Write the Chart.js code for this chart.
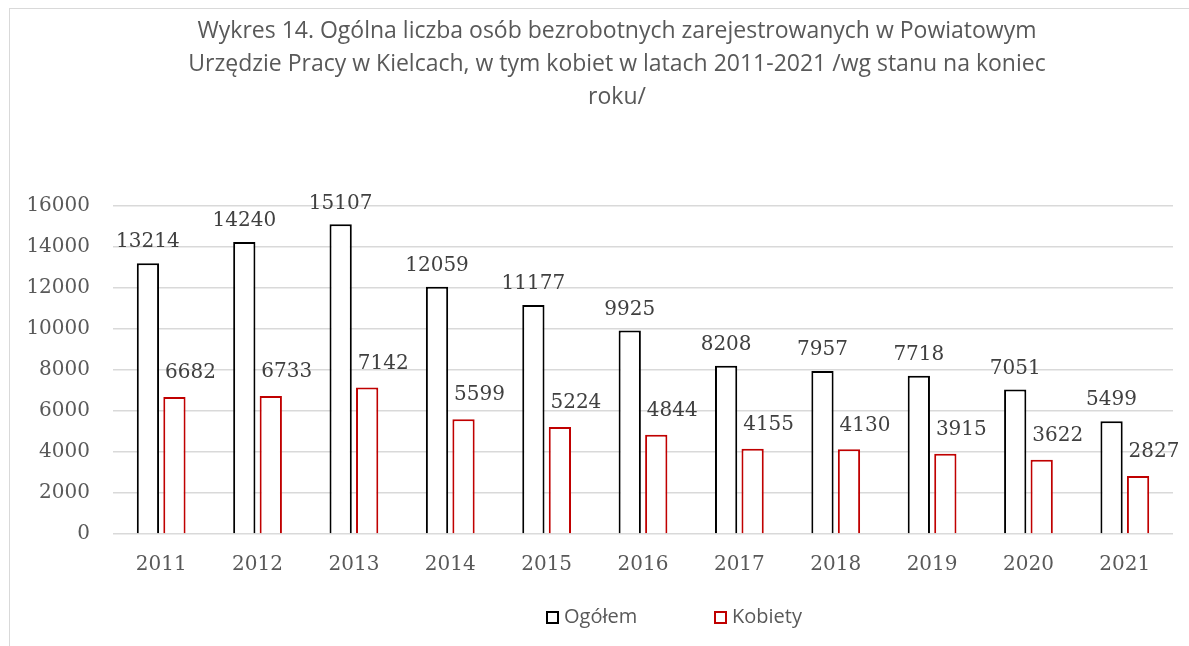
<!DOCTYPE html>
<html>
<head>
<meta charset="utf-8">
<script src="https://cdn.jsdelivr.net/npm/chart.js@4.4.1/dist/chart.umd.min.js"></script>
<style>
  html, body { margin: 0; padding: 0; background: #fff; overflow: hidden; }
  #frame {
    position: absolute; left: 9px; top: 8px;
    width: 1216px; height: 680px;
    border: 1px solid #d9d9d9; box-sizing: border-box;
  }
  #wrap { position: absolute; left: 0; top: 0; width: 1214px; height: 640px; }
  #legend {
    position: absolute; top: 596px; left: 0; width: 100%;
    font-family: 'Open Sans', sans-serif; font-size: 20px; color: #595959;
  }
  .item { position: absolute; top: 0; line-height: 22px; white-space: nowrap; }
  .box { display: inline-block; width: 13px; height: 13px; box-sizing: border-box; border: 2px solid; vertical-align: -1px; margin-right: 5px; }
</style>
</head>
<body>
<div id="frame">
  <div id="wrap"><canvas id="chart"></canvas></div>
  <div id="legend">
    <span class="item" style="left:536px"><span class="box" style="border-color:#000"></span>Ogółem</span>
    <span class="item" style="left:704px"><span class="box" style="border-color:#c00000"></span>Kobiety</span>
  </div>
</div>
<script>
// ── DATA ──
const YEARS   = ['2011', '2012', '2013', '2014', '2015', '2016', '2017', '2018', '2019', '2020', '2021'];
const OGOLEM  = [13214, 14240, 15107, 12059, 11177, 9925, 8208, 7957, 7718, 7051, 5499];
const KOBIETY = [6682, 6733, 7142, 5599, 5224, 4844, 4155, 4130, 3915, 3622, 2827];
const TITLE = [
  'Wykres 14. Ogólna liczba osób bezrobotnych zarejestrowanych w Powiatowym',
  'Urzędzie Pracy w Kielcach, w tym kobiet w latach 2011-2021 /wg stanu na koniec',
  'roku/'
];

const SERIF = "'DejaVu Serif', serif";
const GRID  = '#d9d9d9';
const GREY  = '#595959';

// ── VALUE LABELS ──
const valueLabels = {
  id: 'valueLabels',
  afterDatasetsDraw(chart) {
    const ctx = chart.ctx;
    ctx.save();
    ctx.font = '20px ' + SERIF;
    ctx.fillStyle = '#404040';
    ctx.textAlign = 'center';
    ctx.textBaseline = 'bottom';
    chart.data.datasets.forEach((ds, i) => {
      const meta = chart.getDatasetMeta(i);
      meta.data.forEach((bar, j) => {
        const dx = i === 1 ? 16 : 0;
        const dy = i === 1 ? 14 : 11;
        ctx.fillText(ds.data[j], bar.x + dx, bar.y - dy);
      });
    });
    ctx.restore();
  }
};

new Chart(document.getElementById('chart'), {
  type: 'bar',
  data: {
    labels: YEARS,
    datasets: [
      {
        label: 'Ogółem',
        data: OGOLEM,
        backgroundColor: '#ffffff',
        borderColor: '#000000',
        borderWidth: 2,
        categoryPercentage: 0.55,
        barPercentage: 0.84
      },
      {
        label: 'Kobiety',
        data: KOBIETY,
        backgroundColor: '#ffffff',
        borderColor: '#c00000',
        borderWidth: 2,
        categoryPercentage: 0.55,
        barPercentage: 0.84
      }
    ]
  },
  options: {
    responsive: true,
    maintainAspectRatio: false,
    animation: false,
    layout: { padding: { left: 0, right: 0, top: 6, bottom: 61 } },
    plugins: {
      legend: { display: false },
      tooltip: { enabled: false },
      title: {
        display: true,
        text: TITLE,
        color: GREY,
        font: { family: "'Open Sans', sans-serif", size: 23, weight: 'normal', lineHeight: 1.435 },
        padding: { top: 0, bottom: 92 }
      }
    },
    scales: {
      x: {
        grid: { display: false },
        border: { display: false },
        ticks: { color: GREY, font: { family: SERIF, size: 20 }, padding: 11 }
      },
      y: {
        min: 0,
        max: 16000,
        afterFit: s => { s.width = 103; },
        grid: { color: GRID, lineWidth: 1.5, drawTicks: false },
        border: { display: false },
        ticks: {
          stepSize: 2000,
          color: GREY,
          font: { family: SERIF, size: 20 },
          padding: 23,
          callback: v => String(v)
        }
      },
      // empty right axis, only reserves the blank margin right of the plot
      yRight: {
        position: 'right',
        afterFit: s => { s.width = 51; },
        grid: { display: false },
        border: { display: false },
        ticks: { display: false }
      }
    }
  },
  plugins: [valueLabels]
});
</script>
</body>
</html>
